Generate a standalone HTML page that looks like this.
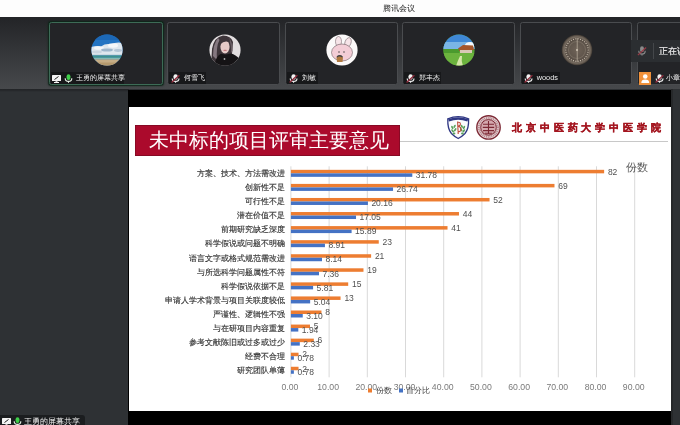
<!DOCTYPE html>
<html><head><meta charset="utf-8">
<style>
html,body{margin:0;padding:0;}
body{width:680px;height:425px;overflow:hidden;position:relative;background:#2e3134;font-family:"Liberation Sans",sans-serif;}
.abs{position:absolute;}
#root{position:absolute;left:0;top:0;width:680px;height:425px;will-change:transform;}
#titlebar{left:0;top:0;width:680px;height:17px;background:#fdfdfd;}
#titlebar span{position:absolute;left:382.8px;top:3px;font-size:8.4px;line-height:10px;color:#1a1a1a;}
#topbar{left:0;top:17px;width:680px;height:71.5px;background:linear-gradient(#232427,#47494c);}
.tile{position:absolute;top:22px;height:63px;background:#232427;border:1px solid #4a4c4f;box-sizing:border-box;border-radius:2.5px;}
.tile.active{border-color:#3d6b56;box-shadow:0 0 1.5px 0.5px #0c2618;}
.av{position:absolute;width:31px;height:31px;border-radius:50%;top:11px;overflow:hidden;}
.lbl{position:absolute;left:1px;top:49px;height:12px;background:#17181a;color:#f0f0f0;font-size:7px;line-height:12px;white-space:nowrap;}
.lbl span{position:absolute;top:0;}
.ic{position:absolute;}
#leftp{left:0;top:88.5px;width:129px;height:336.5px;background:linear-gradient(#222427 0px,#26282b 1.5px,#2e3134 3px);}
#black{left:128.3px;top:89.5px;width:542.7px;height:336px;background:#000;}
#rline{left:671px;top:89px;width:1.5px;height:336px;background:#26282a;}
#slide{left:129px;top:107px;width:541.6px;height:304px;background:#fff;}
#rtitle{left:134.8px;top:125.3px;width:265.2px;height:30.4px;box-shadow:inset 0 0 0 0.7px #7c0a22;background:#ab0a2c;color:#fff;font-size:20px;line-height:30px;}
#rtitle span{position:absolute;left:14.2px;top:0.2px;}
.dl{font-size:8.5px;fill:#505050;}
.cat{font-size:7.7px;fill:#333;stroke:#333;stroke-width:0.15px;}
.xl{font-size:8.7px;fill:#7a7a7a;}
</style></head><body><div id="root">
<div id="titlebar" class="abs"><span>腾讯会议</span></div>
<div id="topbar" class="abs"></div>
<div class="tile active" style="left:49px;width:114px;">
 <svg class="ic" style="left:40.9px;top:10.5px" width="32" height="32" viewBox="0 0 32 32"><defs><clipPath id="c1"><circle cx="16" cy="16" r="15.6"/></clipPath></defs><g clip-path="url(#c1)">
<rect width="32" height="32" fill="#2474c2"/>
<rect y="0" width="32" height="6" fill="#1c68b6"/>
<path d="M0 13 Q6 11.5 10 12.5 Q15 9 20 10.5 Q25 7.5 32 9 L32 21 L0 21 Z" fill="#dfe7ee"/>
<ellipse cx="22" cy="11.5" rx="5" ry="2.2" fill="#f6f8fa"/>
<ellipse cx="8" cy="14" rx="5" ry="1.8" fill="#f3f6f9"/>
<ellipse cx="16" cy="16" rx="6" ry="1.6" fill="#9fb7cc"/>
<ellipse cx="27" cy="16.5" rx="4" ry="1.4" fill="#b5c6d6"/>
<ellipse cx="6" cy="18" rx="5" ry="1.4" fill="#c9d5e0"/>
<rect y="20.5" width="32" height="1" fill="#b9cdd6"/>
<rect y="21.5" width="32" height="2.2" fill="#3f928d"/>
<rect y="23.7" width="32" height="1.6" fill="#86b9b0"/>
<rect y="25.3" width="32" height="7" fill="#c6ae86"/>
<rect y="28.5" width="32" height="4" fill="#b59a6e"/>
</g></svg>
 <div class="lbl" style="left:0.8px;width:73px;">
  <svg class="ic" style="left:1.5px;top:2.5px" width="9" height="8.5" viewBox="0 0 9 8.5"><rect x="0" y="0" width="9" height="6" rx="0.6" fill="#f4f4f4"/><path d="M2.5 4.5 L6.5 1.5" stroke="#222" stroke-width="1"/><rect x="3.5" y="6.2" width="2" height="0.8" fill="#f4f4f4"/><rect x="2" y="7" width="5" height="1" fill="#f4f4f4"/></svg>
  <svg class="ic" style="left:13.5px;top:1.5px" width="9" height="9" viewBox="0 0 9 9"><rect x="2.6" y="0.3" width="3.8" height="5.6" rx="1.9" fill="#3fcf4a"/><path d="M1.2 4.2 Q1.2 7.4 4.5 7.4 Q7.8 7.4 7.8 4.2" stroke="#e8f5e8" stroke-width="1.1" fill="none"/><rect x="4" y="7.2" width="1" height="1.6" fill="#e8f5e8"/></svg>
  <span style="left:25px">王勇的屏幕共享</span>
 </div>
</div>
<div class="tile" style="left:167px;width:113px;">
 <svg class="ic" style="left:40.5px;top:10.5px" width="32" height="32" viewBox="0 0 32 32"><defs><clipPath id="c2"><circle cx="16" cy="16" r="15.6"/></clipPath></defs><g clip-path="url(#c2)">
<rect width="32" height="32" fill="#e2dedf"/>
<path d="M2 32 L3 15 Q5 3 14 1.5 Q22 1.5 24 8 L23 20 L25 32 Z" fill="#3e353a"/>
<path d="M4 22 Q4 10 9 4 L10.5 6 Q7 12 8 26 Z" fill="#857880"/>
<path d="M20 4 Q24 8 23.5 17 L22 19 Q22.5 10 19.5 5.5 Z" fill="#6a5e64"/>
<ellipse cx="16" cy="12.8" rx="4.6" ry="6.6" fill="#e6cac7"/>
<path d="M10.5 7 Q15 2 21 5.5 L20.5 8.5 Q16 5.5 11 10.5 Z" fill="#3e353a"/>
<rect x="14.5" y="15.8" width="3.2" height="1.3" rx="0.6" fill="#c77d83"/>
<path d="M5 32 Q7 22 12 19.8 Q17 21.5 21 19.5 Q27 20 31 26 L32 32 Z" fill="#151315"/>
<circle cx="15.5" cy="25" r="0.9" fill="#b0b0b0"/>
</g></svg>
 <div class="lbl" style="left:0.8px;width:37px;"><svg class="ic" style="left:2.3px;top:1.5px" width="9" height="9" viewBox="0 0 9 9"><rect x="2.5" y="0.2" width="4.2" height="5.6" rx="2.1" fill="#f2f2f2"/><path d="M1.2 4.4 Q1.2 7.4 4.6 7.4 Q8 7.4 8 4.4" stroke="#f2f2f2" stroke-width="1.1" fill="none"/><rect x="4.1" y="7.2" width="1" height="1.6" fill="#f2f2f2"/><line x1="0.6" y1="8.4" x2="8.4" y2="1.2" stroke="#8e2838" stroke-width="1.3"/></svg><span style="left:15px">何雪飞</span></div>
</div>
<div class="tile" style="left:285px;width:113px;">
 <svg class="ic" style="left:40.1px;top:10.5px" width="32" height="32" viewBox="0 0 32 32"><defs><clipPath id="c3"><circle cx="16" cy="16" r="15.6"/></clipPath></defs><g clip-path="url(#c3)">
<rect width="32" height="32" fill="#fbf9f9"/>
<ellipse cx="12.5" cy="7.5" rx="3" ry="5" fill="#f6e4e8" stroke="#7a6a6e" stroke-width="0.6"/>
<ellipse cx="22" cy="8.5" rx="3" ry="5" transform="rotate(20 22 8.5)" fill="#f6e4e8" stroke="#7a6a6e" stroke-width="0.6"/>
<ellipse cx="16" cy="18.5" rx="10.5" ry="8.5" fill="#f3cdd6" stroke="#6d5d61" stroke-width="0.6"/>
<circle cx="13" cy="18" r="0.7" fill="#333"/><circle cx="18" cy="18" r="0.7" fill="#333"/>
<path d="M10.5 23 L15 21.5 L17 23.5 L16.5 28 L11 28 Z" fill="#b07a40"/>
<path d="M11 23 Q13.5 20.5 16.5 23" stroke="#444" stroke-width="1.2" fill="none"/>
</g></svg>
 <div class="lbl" style="left:0.8px;width:31px;"><svg class="ic" style="left:2.3px;top:1.5px" width="9" height="9" viewBox="0 0 9 9"><rect x="2.5" y="0.2" width="4.2" height="5.6" rx="2.1" fill="#f2f2f2"/><path d="M1.2 4.4 Q1.2 7.4 4.6 7.4 Q8 7.4 8 4.4" stroke="#f2f2f2" stroke-width="1.1" fill="none"/><rect x="4.1" y="7.2" width="1" height="1.6" fill="#f2f2f2"/><line x1="0.6" y1="8.4" x2="8.4" y2="1.2" stroke="#8e2838" stroke-width="1.3"/></svg><span style="left:15px">刘敏</span></div>
</div>
<div class="tile" style="left:402px;width:113px;">
 <svg class="ic" style="left:40.1px;top:10.5px" width="32" height="32" viewBox="0 0 32 32"><defs><clipPath id="c4"><circle cx="16" cy="16" r="15.6"/></clipPath></defs><g clip-path="url(#c4)">
<rect width="32" height="32" fill="#5aa336"/>
<rect width="32" height="15" fill="#3f88d6"/>
<rect y="8" width="32" height="7" fill="#7ab5e6"/>
<ellipse cx="27" cy="11" rx="5" ry="3" fill="#f4f8fb"/>
<path d="M15 14.5 L20 11 L30 11.5 L31 16 L16 17 Z" fill="#a5562b"/>
<rect x="17" y="16" width="12" height="3" fill="#d9c8b5"/>
<rect y="15" width="16" height="4" fill="#4b9a2e"/>
<rect y="19" width="32" height="13" fill="#6cb33e"/>
<path d="M13 32 Q15 26 17 22 L19 22 Q18 27 20 32 Z" fill="#d5e6a8"/>
</g></svg>
 <div class="lbl" style="left:0.8px;width:37px;"><svg class="ic" style="left:2.3px;top:1.5px" width="9" height="9" viewBox="0 0 9 9"><rect x="2.5" y="0.2" width="4.2" height="5.6" rx="2.1" fill="#f2f2f2"/><path d="M1.2 4.4 Q1.2 7.4 4.6 7.4 Q8 7.4 8 4.4" stroke="#f2f2f2" stroke-width="1.1" fill="none"/><rect x="4.1" y="7.2" width="1" height="1.6" fill="#f2f2f2"/><line x1="0.6" y1="8.4" x2="8.4" y2="1.2" stroke="#8e2838" stroke-width="1.3"/></svg><span style="left:15px">郑丰杰</span></div>
</div>
<div class="tile" style="left:520px;width:112px;">
 <svg class="ic" style="left:39.5px;top:10.5px" width="32" height="32" viewBox="0 0 32 32"><defs><radialGradient id="cg"><stop offset="0" stop-color="#6e6257"/><stop offset="0.7" stop-color="#5c5249"/><stop offset="0.9" stop-color="#6a6056"/><stop offset="1" stop-color="#3e3730"/></radialGradient></defs>
<circle cx="16" cy="16" r="15.3" fill="url(#cg)"/>
<circle cx="16" cy="16" r="13" fill="none" stroke="#8c8172" stroke-width="0.5"/><circle cx="27.20" cy="16.00" r="0.55" fill="#d6cbbb"/><circle cx="26.96" cy="18.33" r="0.55" fill="#d6cbbb"/><circle cx="26.23" cy="20.56" r="0.55" fill="#d6cbbb"/><circle cx="25.06" cy="22.58" r="0.55" fill="#d6cbbb"/><circle cx="23.49" cy="24.32" r="0.55" fill="#d6cbbb"/><circle cx="21.60" cy="25.70" r="0.55" fill="#d6cbbb"/><circle cx="19.46" cy="26.65" r="0.55" fill="#d6cbbb"/><circle cx="17.17" cy="27.14" r="0.55" fill="#d6cbbb"/><circle cx="14.83" cy="27.14" r="0.55" fill="#d6cbbb"/><circle cx="12.54" cy="26.65" r="0.55" fill="#d6cbbb"/><circle cx="10.40" cy="25.70" r="0.55" fill="#d6cbbb"/><circle cx="8.51" cy="24.32" r="0.55" fill="#d6cbbb"/><circle cx="6.94" cy="22.58" r="0.55" fill="#d6cbbb"/><circle cx="5.77" cy="20.56" r="0.55" fill="#d6cbbb"/><circle cx="5.04" cy="18.33" r="0.55" fill="#d6cbbb"/><circle cx="4.80" cy="16.00" r="0.55" fill="#d6cbbb"/><circle cx="5.04" cy="13.67" r="0.55" fill="#d6cbbb"/><circle cx="5.77" cy="11.44" r="0.55" fill="#d6cbbb"/><circle cx="6.94" cy="9.42" r="0.55" fill="#d6cbbb"/><circle cx="8.51" cy="7.68" r="0.55" fill="#d6cbbb"/><circle cx="10.40" cy="6.30" r="0.55" fill="#d6cbbb"/><circle cx="12.54" cy="5.35" r="0.55" fill="#d6cbbb"/><circle cx="14.83" cy="4.86" r="0.55" fill="#d6cbbb"/><circle cx="17.17" cy="4.86" r="0.55" fill="#d6cbbb"/><circle cx="19.46" cy="5.35" r="0.55" fill="#d6cbbb"/><circle cx="21.60" cy="6.30" r="0.55" fill="#d6cbbb"/><circle cx="23.49" cy="7.68" r="0.55" fill="#d6cbbb"/><circle cx="25.06" cy="9.42" r="0.55" fill="#d6cbbb"/><circle cx="26.23" cy="11.44" r="0.55" fill="#d6cbbb"/><circle cx="26.96" cy="13.67" r="0.55" fill="#d6cbbb"/>
<circle cx="16" cy="16" r="8.5" fill="none" stroke="#9a8e7e" stroke-width="0.4"/>
<rect x="15.6" y="4" width="1.4" height="24" fill="#a59a8a" opacity="0.7"/>
<circle cx="16" cy="16" r="1" fill="#cfc4b4"/></svg>
 <div class="lbl" style="left:0.8px;width:38px;"><svg class="ic" style="left:2.3px;top:1.5px" width="9" height="9" viewBox="0 0 9 9"><rect x="2.5" y="0.2" width="4.2" height="5.6" rx="2.1" fill="#f2f2f2"/><path d="M1.2 4.4 Q1.2 7.4 4.6 7.4 Q8 7.4 8 4.4" stroke="#f2f2f2" stroke-width="1.1" fill="none"/><rect x="4.1" y="7.2" width="1" height="1.6" fill="#f2f2f2"/><line x1="0.6" y1="8.4" x2="8.4" y2="1.2" stroke="#8e2838" stroke-width="1.3"/></svg><span style="left:15px;font-size:7.3px">woods</span></div>
</div>
<div class="tile" style="left:637px;width:60px;">
 <div class="lbl" style="left:0px;width:60px;background:transparent;"><div class="abs" style="left:0.5px;top:0px;width:12.5px;height:12.5px;background:#f0913a;"><svg class="ic" style="left:0;top:0" width="12.5" height="12.5" viewBox="0 0 12 12"><circle cx="6" cy="4.3" r="2.2" fill="#fff"/><path d="M2.2 10.5 Q2.2 7.3 6 7.3 Q9.8 7.3 9.8 10.5 Z" fill="#fff"/></svg></div><svg class="ic" style="left:16.5px;top:1.5px" width="9" height="9" viewBox="0 0 9 9"><rect x="2.5" y="0.2" width="4.2" height="5.6" rx="2.1" fill="#f2f2f2"/><path d="M1.2 4.4 Q1.2 7.4 4.6 7.4 Q8 7.4 8 4.4" stroke="#f2f2f2" stroke-width="1.1" fill="none"/><rect x="4.1" y="7.2" width="1" height="1.6" fill="#f2f2f2"/><line x1="0.6" y1="8.4" x2="8.4" y2="1.2" stroke="#8e2838" stroke-width="1.3"/></svg><span style="left:28px">小章</span></div>
</div>
<div class="abs" style="left:631px;top:39.5px;width:60px;height:22px;background:#2b2e31;">
 <svg class="ic" style="left:6px;top:6px" width="10" height="10" viewBox="0 0 9 9"><rect x="2.8" y="0.3" width="3.4" height="5.2" rx="1.7" fill="#8a8a8a"/><path d="M1.6 4.2 Q1.6 7.2 4.5 7.2 Q7.4 7.2 7.4 4.2" stroke="#8a8a8a" stroke-width="1" fill="none"/><rect x="4" y="7" width="1" height="1.6" fill="#8a8a8a"/><line x1="0.8" y1="8.2" x2="8.2" y2="1.4" stroke="#9a3a46" stroke-width="1.1"/></svg>
 <div class="abs" style="left:22px;top:3px;width:1px;height:16px;background:#44474a;"></div>
 <span class="abs" style="left:28px;top:5px;font-size:9px;line-height:12px;color:#f4f4f4;-webkit-text-stroke:0.15px #f4f4f4;white-space:nowrap;">正在讲话</span>
</div>
<div id="leftp" class="abs"></div>
<div id="black" class="abs"></div>
<div id="slide" class="abs"></div>
<div id="rline" class="abs"></div>
<div class="abs" style="left:0;top:415px;width:85px;height:12px;background:#1b1d1f;border-radius:0 3px 0 0;">
  <svg class="ic" style="left:1.5px;top:2.5px" width="9" height="8" viewBox="0 0 9 8"><rect x="0" y="0" width="9" height="6" rx="0.6" fill="#f4f4f4"/><path d="M2.5 4.5 L6.5 1.5" stroke="#222" stroke-width="1"/><rect x="3.5" y="6.2" width="2" height="0.8" fill="#f4f4f4"/><rect x="2" y="7" width="5" height="1" fill="#f4f4f4"/></svg>
  <svg class="ic" style="left:13px;top:2px" width="9" height="9" viewBox="0 0 9 9"><rect x="2.6" y="0.3" width="3.8" height="5.6" rx="1.9" fill="#3fcf4a"/><path d="M1.2 4.2 Q1.2 7.4 4.5 7.4 Q7.8 7.4 7.8 4.2" stroke="#e8f5e8" stroke-width="1.1" fill="none"/><rect x="4" y="7.2" width="1" height="1.6" fill="#e8f5e8"/></svg>
  <span class="abs" style="left:24px;top:1px;font-size:8px;line-height:12px;color:#f0f0f0;white-space:nowrap;">王勇的屏幕共享</span>
</div>
<div id="rtitle" class="abs"><span>未中标的项目评审主要意见</span></div>
<svg class="abs" style="left:440px;top:108px" width="70" height="36" viewBox="440 108 70 36">
 <path d="M447.8 118.8 Q458.2 114.4 468.6 118.8 Q469 129 465 133.5 Q461.5 137 458.2 138.5 Q454.9 137 451.4 133.5 Q447.4 129 447.8 118.8 Z" fill="#fbfbfd" stroke="#2f3784" stroke-width="1.3"/>
 <path d="M448.2 119.3 Q458.2 115.2 468.2 119.3 L467.4 121.6 Q458.2 117.9 449 121.6 Z" fill="#2f3784"/>
 <g fill="#5aa05c">
  <ellipse cx="452.3" cy="127.5" rx="0.9" ry="1.8" transform="rotate(-30 452.3 127.5)"/>
  <ellipse cx="454.6" cy="126.3" rx="0.9" ry="1.8" transform="rotate(30 454.6 126.3)"/>
  <ellipse cx="452.6" cy="130.8" rx="0.9" ry="1.9" transform="rotate(-40 452.6 130.8)"/>
  <ellipse cx="455.2" cy="129.8" rx="0.9" ry="1.9" transform="rotate(35 455.2 129.8)"/>
  <ellipse cx="454" cy="133.5" rx="1.4" ry="1.1"/>
  <ellipse cx="464" cy="127.5" rx="0.9" ry="1.8" transform="rotate(30 464 127.5)"/>
  <ellipse cx="461.8" cy="126.3" rx="0.9" ry="1.8" transform="rotate(-30 461.8 126.3)"/>
  <ellipse cx="463.8" cy="130.8" rx="0.9" ry="1.9" transform="rotate(40 463.8 130.8)"/>
  <ellipse cx="461.2" cy="129.8" rx="0.9" ry="1.9" transform="rotate(-35 461.2 129.8)"/>
  <ellipse cx="462.4" cy="133.5" rx="1.4" ry="1.1"/>
 </g>
 <path d="M457.5 122.3 Q460.8 121.8 460.3 124.8 Q459.6 126.2 457.9 126.3 Q461.6 127 461 130.3 Q459.8 132.3 457.6 131.2 M457.6 121.5 L458.2 134" stroke="#bf4b3b" stroke-width="1.1" fill="none"/>
 <circle cx="488.5" cy="127.4" r="11.7" fill="#eadadc" stroke="#7c2834" stroke-width="1.4"/>
 <circle cx="488.5" cy="127.4" r="9.4" fill="none" stroke="#b98a90" stroke-width="2.4" stroke-dasharray="1.1 0.7"/>
 <circle cx="488.5" cy="127.4" r="7.8" fill="#d4a9ae" stroke="#7c2834" stroke-width="1"/>
 <path d="M483 124.2 H494 M482.8 127.4 H494.2 M483 130.6 H494 M488.5 121 V134 M485 133.2 H492" stroke="#7c2834" stroke-width="1.1" fill="none"/>
</svg>
<div class="abs" style="left:512px;top:120px;font-family:'Liberation Serif',serif;font-weight:bold;font-size:9.8px;line-height:16px;letter-spacing:3.9px;color:#a3151f;-webkit-text-stroke:0.35px #a3151f;white-space:nowrap;">北京中医药大学中医学院</div>
<svg class="abs" style="left:0;top:0" width="680" height="425" viewBox="0 0 680 425">
<line x1="400" y1="141.5" x2="668" y2="141.5" stroke="#c8c8c8" stroke-width="1.2"/>
<line x1="290.9" y1="166.3" x2="290.9" y2="377.3" stroke="#d9d9d9" stroke-width="1"/>
<line x1="329.1" y1="166.3" x2="329.1" y2="377.3" stroke="#d9d9d9" stroke-width="1"/>
<line x1="367.3" y1="166.3" x2="367.3" y2="377.3" stroke="#d9d9d9" stroke-width="1"/>
<line x1="405.5" y1="166.3" x2="405.5" y2="377.3" stroke="#d9d9d9" stroke-width="1"/>
<line x1="443.7" y1="166.3" x2="443.7" y2="377.3" stroke="#d9d9d9" stroke-width="1"/>
<line x1="481.9" y1="166.3" x2="481.9" y2="377.3" stroke="#d9d9d9" stroke-width="1"/>
<line x1="520.1" y1="166.3" x2="520.1" y2="377.3" stroke="#d9d9d9" stroke-width="1"/>
<line x1="558.3" y1="166.3" x2="558.3" y2="377.3" stroke="#d9d9d9" stroke-width="1"/>
<line x1="596.5" y1="166.3" x2="596.5" y2="377.3" stroke="#d9d9d9" stroke-width="1"/>
<line x1="634.7" y1="166.3" x2="634.7" y2="377.3" stroke="#d9d9d9" stroke-width="1"/>
<rect x="290.9" y="169.83" width="313.24" height="3.5" fill="#ed7d31"/>
<rect x="290.9" y="173.33" width="121.40" height="3.5" fill="#4472c4"/>
<rect x="290.9" y="183.90" width="263.58" height="3.5" fill="#ed7d31"/>
<rect x="290.9" y="187.40" width="102.15" height="3.5" fill="#4472c4"/>
<rect x="290.9" y="197.97" width="198.64" height="3.5" fill="#ed7d31"/>
<rect x="290.9" y="201.47" width="77.01" height="3.5" fill="#4472c4"/>
<rect x="290.9" y="212.03" width="168.08" height="3.5" fill="#ed7d31"/>
<rect x="290.9" y="215.53" width="65.13" height="3.5" fill="#4472c4"/>
<rect x="290.9" y="226.10" width="156.62" height="3.5" fill="#ed7d31"/>
<rect x="290.9" y="229.60" width="60.70" height="3.5" fill="#4472c4"/>
<rect x="290.9" y="240.17" width="87.86" height="3.5" fill="#ed7d31"/>
<rect x="290.9" y="243.67" width="34.04" height="3.5" fill="#4472c4"/>
<rect x="290.9" y="254.23" width="80.22" height="3.5" fill="#ed7d31"/>
<rect x="290.9" y="257.73" width="31.09" height="3.5" fill="#4472c4"/>
<rect x="290.9" y="268.30" width="72.58" height="3.5" fill="#ed7d31"/>
<rect x="290.9" y="271.80" width="28.12" height="3.5" fill="#4472c4"/>
<rect x="290.9" y="282.37" width="57.30" height="3.5" fill="#ed7d31"/>
<rect x="290.9" y="285.87" width="22.19" height="3.5" fill="#4472c4"/>
<rect x="290.9" y="296.43" width="49.66" height="3.5" fill="#ed7d31"/>
<rect x="290.9" y="299.93" width="19.25" height="3.5" fill="#4472c4"/>
<rect x="290.9" y="310.50" width="30.56" height="3.5" fill="#ed7d31"/>
<rect x="290.9" y="314.00" width="11.84" height="3.5" fill="#4472c4"/>
<rect x="290.9" y="324.57" width="19.10" height="3.5" fill="#ed7d31"/>
<rect x="290.9" y="328.07" width="7.41" height="3.5" fill="#4472c4"/>
<rect x="290.9" y="338.63" width="22.92" height="3.5" fill="#ed7d31"/>
<rect x="290.9" y="342.13" width="8.90" height="3.5" fill="#4472c4"/>
<rect x="290.9" y="352.70" width="7.64" height="3.5" fill="#ed7d31"/>
<rect x="290.9" y="356.20" width="2.98" height="3.5" fill="#4472c4"/>
<rect x="290.9" y="366.77" width="7.64" height="3.5" fill="#ed7d31"/>
<rect x="290.9" y="370.27" width="2.98" height="3.5" fill="#4472c4"/>
<text x="607.9" y="174.58" class="dl">82</text>
<text x="415.8" y="178.08" class="dl">31.78</text>
<text x="284.5" y="176.13" class="cat" text-anchor="end">方案、技术、方法需改进</text>
<text x="558.3" y="188.65" class="dl">69</text>
<text x="396.5" y="192.15" class="dl">26.74</text>
<text x="284.5" y="190.20" class="cat" text-anchor="end">创新性不足</text>
<text x="493.3" y="202.72" class="dl">52</text>
<text x="371.4" y="206.22" class="dl">20.16</text>
<text x="284.5" y="204.27" class="cat" text-anchor="end">可行性不足</text>
<text x="462.8" y="216.78" class="dl">44</text>
<text x="359.5" y="220.28" class="dl">17.05</text>
<text x="284.5" y="218.33" class="cat" text-anchor="end">潜在价值不足</text>
<text x="451.3" y="230.85" class="dl">41</text>
<text x="355.1" y="234.35" class="dl">15.89</text>
<text x="284.5" y="232.40" class="cat" text-anchor="end">前期研究缺乏深度</text>
<text x="382.6" y="244.92" class="dl">23</text>
<text x="328.4" y="248.42" class="dl">8.91</text>
<text x="284.5" y="246.47" class="cat" text-anchor="end">科学假说或问题不明确</text>
<text x="374.9" y="258.98" class="dl">21</text>
<text x="325.5" y="262.48" class="dl">8.14</text>
<text x="284.5" y="260.53" class="cat" text-anchor="end">语言文字或格式规范需改进</text>
<text x="367.3" y="273.05" class="dl">19</text>
<text x="322.5" y="276.55" class="dl">7.36</text>
<text x="284.5" y="274.60" class="cat" text-anchor="end">与所选科学问题属性不符</text>
<text x="352.0" y="287.12" class="dl">15</text>
<text x="316.6" y="290.62" class="dl">5.81</text>
<text x="284.5" y="288.67" class="cat" text-anchor="end">科学假说依据不足</text>
<text x="344.4" y="301.18" class="dl">13</text>
<text x="313.7" y="304.68" class="dl">5.04</text>
<text x="284.5" y="302.73" class="cat" text-anchor="end">申请人学术背景与项目关联度较低</text>
<text x="325.3" y="315.25" class="dl">8</text>
<text x="306.2" y="318.75" class="dl">3.10</text>
<text x="284.5" y="316.80" class="cat" text-anchor="end">严谨性、逻辑性不强</text>
<text x="313.8" y="329.32" class="dl">5</text>
<text x="301.8" y="332.82" class="dl">1.94</text>
<text x="284.5" y="330.87" class="cat" text-anchor="end">与在研项目内容重复</text>
<text x="317.6" y="343.38" class="dl">6</text>
<text x="303.3" y="346.88" class="dl">2.33</text>
<text x="284.5" y="344.93" class="cat" text-anchor="end">参考文献陈旧或过多或过少</text>
<text x="302.3" y="357.45" class="dl">2</text>
<text x="297.4" y="360.95" class="dl">0.78</text>
<text x="284.5" y="359.00" class="cat" text-anchor="end">经费不合理</text>
<text x="302.3" y="371.52" class="dl">2</text>
<text x="297.4" y="375.02" class="dl">0.78</text>
<text x="284.5" y="373.07" class="cat" text-anchor="end">研究团队单薄</text>
<text x="289.9" y="389.5" class="xl" text-anchor="middle">0.00</text>
<text x="328.1" y="389.5" class="xl" text-anchor="middle">10.00</text>
<text x="366.3" y="389.5" class="xl" text-anchor="middle">20.00</text>
<text x="404.5" y="389.5" class="xl" text-anchor="middle">30.00</text>
<text x="442.7" y="389.5" class="xl" text-anchor="middle">40.00</text>
<text x="480.9" y="389.5" class="xl" text-anchor="middle">50.00</text>
<text x="519.1" y="389.5" class="xl" text-anchor="middle">60.00</text>
<text x="557.3" y="389.5" class="xl" text-anchor="middle">70.00</text>
<text x="595.5" y="389.5" class="xl" text-anchor="middle">80.00</text>
<text x="633.7" y="389.5" class="xl" text-anchor="middle">90.00</text>
<text x="626" y="171" style="font-size:10.5px;fill:#595959">份数</text>
<rect x="368" y="388.5" width="4" height="4" fill="#ed7d31"/>
<text x="375.5" y="393" style="font-size:7.7px;fill:#404040">份数</text>
<rect x="399" y="388.5" width="4" height="4" fill="#4472c4"/>
<text x="405.5" y="393" style="font-size:7.9px;fill:#404040">百分比</text>
</svg>
</div></body></html>
